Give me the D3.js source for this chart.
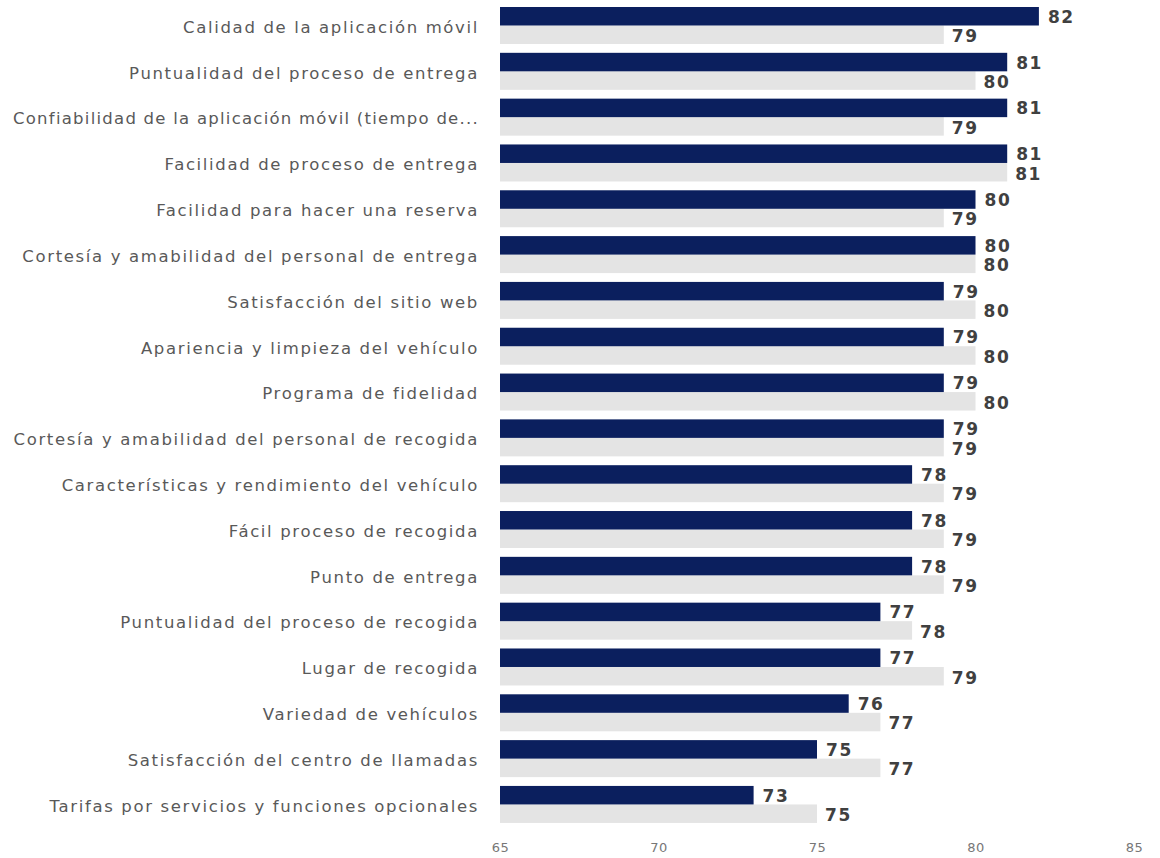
<!DOCTYPE html>
<html><head><meta charset="utf-8">
<script src="https://cdn.jsdelivr.net/npm/d3@7"></script>
<style>body{margin:0;background:#fff;} svg{display:block;}</style>
</head><body>
<svg id="c" width="1160" height="858"></svg>
<script>
const categories = [
  "Calidad de la aplicación móvil",
  "Puntualidad del proceso de entrega",
  "Confiabilidad de la aplicación móvil (tiempo de...",
  "Facilidad de proceso de entrega",
  "Facilidad para hacer una reserva",
  "Cortesía y amabilidad del personal de entrega",
  "Satisfacción del sitio web",
  "Apariencia y limpieza del vehículo",
  "Programa de fidelidad",
  "Cortesía y amabilidad del personal de recogida",
  "Características y rendimiento del vehículo",
  "Fácil proceso de recogida",
  "Punto de entrega",
  "Puntualidad del proceso de recogida",
  "Lugar de recogida",
  "Variedad de vehículos",
  "Satisfacción del centro de llamadas",
  "Tarifas por servicios y funciones opcionales"
];
const seriesCurrent = [82,81,81,81,80,80,79,79,79,79,78,78,78,77,77,76,75,73];
const seriesPrevious = [79,80,79,81,79,80,80,80,80,79,79,79,79,78,79,77,77,75];
const xTicks = [65,70,75,80,85];

const svg = d3.select("#c");
const font = "'DejaVu Sans', Verdana, sans-serif";
const x = d3.scaleLinear().domain([65,85]).range([500,1134]);
const step = 45.82;
const pIn = 0.1925;
const y0 = 7 - step*pIn/2;
const y = d3.scaleBand().domain(categories).range([y0, y0 + step*categories.length])
  .paddingInner(pIn).paddingOuter(pIn/2);
const sub = d3.scaleBand().domain(["cur","prev"]).range([0, y.bandwidth()]).paddingInner(0.0);

const rows = categories.map((c,i)=>({c, cur: seriesCurrent[i], prev: seriesPrevious[i]}));

const g = svg.append("g");
const row = g.selectAll("g.row").data(rows).join("g").attr("transform", d=>`translate(0,${y(d.c)})`);

row.append("rect").attr("x", x(65)).attr("y", sub("prev")).attr("height", sub.bandwidth())
  .attr("width", d=>x(d.prev)-x(65)).attr("fill", "#e4e4e4");
row.append("rect").attr("x", x(65)).attr("y", sub("cur")).attr("height", sub.bandwidth())
  .attr("width", d=>x(d.cur)-x(65)).attr("fill", "#0b1f5e");

row.append("text").attr("x", d=>x(d.cur)+9).attr("y", sub("cur")+sub.bandwidth()/2+0.5).attr("dy","0.35em")
  .attr("font-family", font).attr("font-weight","bold").attr("font-size", 17).attr("letter-spacing", 1.6)
  .attr("fill","#404040").text(d=>d.cur);
row.append("text").attr("x", d=>x(d.prev)+8).attr("y", sub("prev")+sub.bandwidth()/2+1.5).attr("dy","0.35em")
  .attr("font-family", font).attr("font-weight","bold").attr("font-size", 17).attr("letter-spacing", 1.6)
  .attr("fill","#404040").text(d=>d.prev);

const maxW = 466;
row.append("text").attr("x", 479).attr("y", y.bandwidth()/2+1.5).attr("dy","0.35em")
  .attr("text-anchor","end").attr("font-family", font).attr("font-size", 16.5).attr("letter-spacing", 1.65)
  .attr("fill","#595959").text(d=>d.c)
  .each(function(d){
    const w = this.getComputedTextLength();
    if (w > maxW) {
      const n = d.c.length;
      const ls = Math.max(0, 1.65 - (w - maxW)/n);
      d3.select(this).attr("letter-spacing", ls);
    }
  });

const ax = svg.append("g").attr("transform","translate(0,843)")
  .call(d3.axisBottom(x).tickValues(xTicks).tickSize(0).tickPadding(0));
ax.select(".domain").remove();
ax.selectAll("text").attr("font-family", font).attr("font-size", 13).attr("letter-spacing", 0.5).attr("fill","#777777");
</script>
</body></html>
